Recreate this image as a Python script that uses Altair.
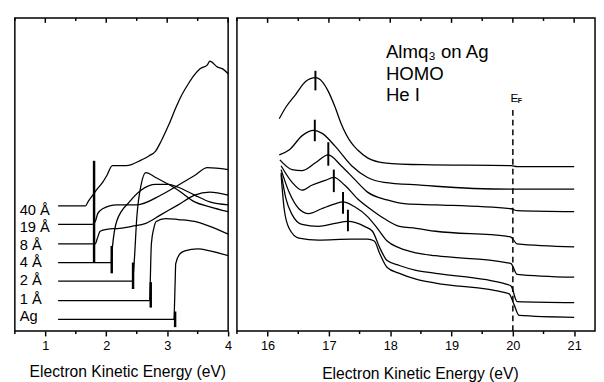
import altair as alt
import pandas as pd

FONT = "Liberation Sans"

# ---------------- Left panel: secondary-electron cutoff (eV, arb. units) ----------------
L_NAMES = ["40 Å", "19 Å", "8 Å", "4 Å", "2 Å", "1 Å", "Ag"]

L40_E = [1.21, 1.66, 1.70, 1.78, 1.85, 1.94, 2.01, 2.10, 2.33, 2.58, 2.70, 2.81, 2.90, 3.02, 3.14, 3.22, 3.34, 3.45, 3.54, 3.66, 3.70, 3.82, 3.91, 4.0]
L40_I = [128, 128, 132, 139, 145, 152, 159, 169, 169, 175, 179, 184, 194, 210, 228, 239, 252, 262, 268, 272, 276, 270, 268, 263]
L19_E = [1.21, 1.77, 1.82, 1.86, 1.94, 2.17, 2.50, 2.90, 3.18, 3.45, 3.66, 4.0]
L19_I = [109, 109, 112, 120, 125, 129, 129, 139, 149, 159, 167, 165]
L8_E = [1.21, 1.82, 1.85, 1.90, 2.01, 2.22, 2.42, 2.65, 2.90, 3.18, 3.45, 3.70, 4.0]
L8_I = [89, 89, 94, 102, 104, 105, 107, 110, 119, 129, 139, 142, 139]
L4_E = [1.21, 2.08, 2.10, 2.17, 2.38, 2.57, 2.81, 3.02, 3.18, 3.45, 3.70, 4.0]
L4_I = [70, 70, 85, 112, 132, 144, 150, 150, 147, 139, 132, 129]
L2_E = [1.21, 2.43, 2.46, 2.50, 2.57, 2.65, 2.81, 3.02, 3.18, 3.45, 3.70, 4.0]
L2_I = [51, 51, 72, 115, 149, 162, 157, 150, 144, 132, 127, 122]
L1_E = [1.21, 2.71, 2.74, 2.78, 2.82, 2.97, 3.18, 3.45, 3.70, 4.0]
L1_I = [31, 31, 89, 105, 112, 115, 114, 112, 107, 99]
LAG_E = [1.21, 3.11, 3.13, 3.14, 3.21, 3.29, 3.50, 3.70, 4.0]
LAG_I = [12, 12, 49, 69, 79, 82, 84, 82, 77]

# cutoff markers (energy, lower, upper)
CUT_E = [3.13, 2.73, 2.44, 2.09, 1.80]
CUT_LO = [4, 24, 43, 59, 70]
CUT_HI = [20, 50, 70, 87, 174]

# thickness labels
LAB_E = [0.58] * 7
LAB_I = [124, 106, 88, 70, 52, 33, 15]

# ---------------- Right panel: HOMO region ----------------
R_NAMES = ["40 Å", "19 Å", "8 Å", "4 Å", "2 Å", "1 Å", "Ag"]
R1_E = [16.19, 16.30, 16.46, 16.62, 16.78, 16.89, 16.99, 17.10, 17.20, 17.37, 17.47, 17.63, 17.90, 18.54, 19.97, 20.07, 21.0]
R1_I = [217, 229, 242, 255, 259, 255, 245, 229, 212, 192, 185, 177, 172, 170, 169, 168, 168]
R2_E = [16.19, 16.35, 16.57, 16.75, 16.89, 17.10, 17.37, 17.63, 17.90, 18.54, 18.74, 19.97, 21.0]
R2_I = [180, 185, 200, 205, 202, 189, 169, 157, 152, 149, 148, 145, 145]
R3_E = [16.20, 16.40, 16.56, 16.78, 16.99, 17.20, 17.42, 17.63, 17.95, 18.26, 18.74, 19.97, 20.07, 21.0]
R3_I = [175, 165, 164, 172, 180, 169, 155, 142, 134, 130, 129, 125, 123, 122]
R4_E = [16.22, 16.40, 16.56, 16.72, 16.94, 17.08, 17.26, 17.47, 17.67, 17.90, 18.15, 18.42, 18.74, 19.89, 19.97, 20.07, 21.0]
R4_I = [169, 152, 144, 149, 154, 157, 149, 135, 125, 115, 107, 105, 102, 97, 96, 89, 86]
R5_E = [16.22, 16.35, 16.51, 16.67, 16.88, 17.10, 17.23, 17.42, 17.63, 17.79, 17.95, 18.15, 18.42, 18.74, 19.89, 19.97, 20.07, 21.0]
R5_I = [165, 142, 125, 120, 125, 130, 132, 127, 117, 105, 92, 85, 80, 77, 70, 69, 58, 55]
R6_E = [16.22, 16.30, 16.40, 16.56, 16.83, 17.10, 17.31, 17.58, 17.71, 17.83, 17.95, 18.15, 18.42, 18.74, 19.89, 19.97, 20.07, 21.0]
R6_I = [162, 135, 119, 109, 107, 110, 112, 107, 102, 85, 72, 67, 62, 59, 48, 46, 30, 29]
R7_E = [16.22, 16.27, 16.35, 16.51, 16.83, 17.36, 17.63, 17.74, 17.83, 17.95, 18.15, 18.42, 18.74, 19.89, 19.94, 20.02, 20.10, 21.0]
R7_I = [160, 125, 105, 95, 93, 94, 94, 92, 79, 65, 59, 53, 49, 39, 38, 27, 16, 14]

PEAK_E = [16.78, 16.77, 16.99, 17.08, 17.23, 17.31]
PEAK_LO = [246, 194, 169, 142, 120, 102]
PEAK_HI = [266, 216, 193, 165, 142, 124]

EF_E = [20.0]
EF_LO = [0]
EF_HI = [227]

ANN_TEXT = ["Almq₃ on Ag", "HOMO", "He I"]
ANN_E = [17.93, 17.93, 17.93]
ANN_I = [279, 257, 235]

EF_LABEL = ["E"]
EF_LABEL_E = [19.96]
EF_LABEL_I = [234]
EF_SUB = ["F"]
EF_SUB_E = [20.08]
EF_SUB_I = [233]

# axis ticks: labelled majors, unlabelled minors
L_MAJOR = [1.0, 2.0, 3.0, 4.0]
L_MINOR = [0.5, 1.5, 2.5, 3.5]
R_MAJOR = [16.0, 17.0, 18.0, 19.0, 20.0, 21.0]
R_MINOR = [15.5, 16.5, 17.5, 18.5, 19.5, 20.5]
TITLE = "Electron Kinetic Energy (eV)"

Y_MAX = 320          # intensity range shown (arb. units)
TOP_MAJOR_LEN = 5    # tick lengths, in intensity units
TOP_MINOR_LEN = 3
BOT_MINOR_LEN = 3


def curves(names, Es, Is):
    rows = []
    for n, es, vs in zip(names, Es, Is):
        for i, (e, v) in enumerate(zip(es, vs)):
            rows.append({"s": n, "e": e, "v": v, "o": i})
    return pd.DataFrame(rows)


left_df = curves(L_NAMES, [L40_E, L19_E, L8_E, L4_E, L2_E, L1_E, LAG_E],
                 [L40_I, L19_I, L8_I, L4_I, L2_I, L1_I, LAG_I])
right_df = curves(R_NAMES, [R1_E, R2_E, R3_E, R4_E, R5_E, R6_E, R7_E],
                  [R1_I, R2_I, R3_I, R4_I, R5_I, R6_I, R7_I])
cut_df = pd.DataFrame({"e": CUT_E, "lo": CUT_LO, "hi": CUT_HI})
lab_df = pd.DataFrame({"e": LAB_E, "v": LAB_I, "t": L_NAMES})
peak_df = pd.DataFrame({"e": PEAK_E, "lo": PEAK_LO, "hi": PEAK_HI})
ef_df = pd.DataFrame({"e": EF_E, "lo": EF_LO, "hi": EF_HI})
ann_df = pd.DataFrame({"e": ANN_E, "v": ANN_I, "t": ANN_TEXT})
efl_df = pd.DataFrame({"e": EF_LABEL_E, "v": EF_LABEL_I, "t": EF_LABEL})
efs_df = pd.DataFrame({"e": EF_SUB_E, "v": EF_SUB_I, "t": EF_SUB})

YS = alt.Scale(domain=[0, Y_MAX], nice=False, zero=False)
H = 320


def bottom_axis(values, title_x, title_y):
    return alt.Axis(values=values, orient="bottom", title=TITLE, grid=False, domain=False,
                    format="d", labelFlush=False, labelOverlap=False,
                    ticks=True, tickSize=5, tickColor="black", tickWidth=1.5,
                    labelFont=FONT, labelFontSize=13, labelColor="black", labelPadding=4,
                    titleFont=FONT, titleFontSize=16, titleFontWeight="normal", titleColor="black",
                    titleX=title_x, titleY=title_y, titleBaseline="top")


def tick_layer(xs, major, minor):
    rows = []
    for e in major:
        rows.append({"e": e, "lo": Y_MAX - TOP_MAJOR_LEN, "hi": Y_MAX})
    for e in minor:
        rows.append({"e": e, "lo": Y_MAX - TOP_MINOR_LEN, "hi": Y_MAX})
        rows.append({"e": e, "lo": -BOT_MINOR_LEN, "hi": 0})
    d = pd.DataFrame(rows)
    return alt.Chart(d).mark_rule(color="black", strokeWidth=1.5).encode(
        x=alt.X("e:Q", scale=xs, axis=None),
        y=alt.Y("lo:Q", scale=YS, axis=None), y2="hi:Q")


lS = alt.Scale(domain=[0.5, 4.0], nice=False, zero=False)
rS = alt.Scale(domain=[15.5, 21.34], nice=False, zero=False)

l_lines = alt.Chart(left_df).mark_line(color="black", strokeWidth=1.3, interpolate="monotone").encode(
    x=alt.X("e:Q", scale=lS, axis=bottom_axis(L_MAJOR, 115, 33)),
    y=alt.Y("v:Q", scale=YS, axis=None),
    detail="s:N", order="o:Q")
l_cut = alt.Chart(cut_df).mark_rule(color="black", strokeWidth=2.5).encode(
    x=alt.X("e:Q", scale=lS, axis=None),
    y=alt.Y("lo:Q", scale=YS, axis=None), y2="hi:Q")
l_lab = alt.Chart(lab_df).mark_text(align="left", baseline="middle", font=FONT, fontSize=15,
                                    color="black").encode(
    x=alt.X("e:Q", scale=lS, axis=None), y=alt.Y("v:Q", scale=YS, axis=None), text="t:N")
left = alt.layer(l_lines, l_cut, l_lab, tick_layer(lS, L_MAJOR, L_MINOR)).resolve_axis(
    x="independent").properties(width=218, height=H)

r_lines = alt.Chart(right_df).mark_line(color="black", strokeWidth=1.3, interpolate="monotone").encode(
    x=alt.X("e:Q", scale=rS, axis=bottom_axis(R_MAJOR, 187, 36)),
    y=alt.Y("v:Q", scale=YS, axis=None),
    detail="s:N", order="o:Q")
r_peak = alt.Chart(peak_df).mark_rule(color="black", strokeWidth=2).encode(
    x=alt.X("e:Q", scale=rS, axis=None),
    y=alt.Y("lo:Q", scale=YS, axis=None), y2="hi:Q")
r_ef = alt.Chart(ef_df).mark_rule(color="black", strokeWidth=1.5, strokeDash=[6, 4]).encode(
    x=alt.X("e:Q", scale=rS, axis=None), y=alt.Y("lo:Q", scale=YS, axis=None), y2="hi:Q")
r_ann = alt.Chart(ann_df).mark_text(align="left", baseline="alphabetic", font=FONT, fontSize=19,
                                    color="black").encode(
    x=alt.X("e:Q", scale=rS, axis=None), y=alt.Y("v:Q", scale=YS, axis=None), text="t:N")
r_efl = alt.Chart(efl_df).mark_text(align="left", baseline="alphabetic", font=FONT, fontSize=12,
                                    color="black").encode(
    x=alt.X("e:Q", scale=rS, axis=None), y=alt.Y("v:Q", scale=YS, axis=None), text="t:N")
r_efs = alt.Chart(efs_df).mark_text(align="left", baseline="alphabetic", font=FONT, fontSize=7,
                                    fontWeight="bold", color="black").encode(
    x=alt.X("e:Q", scale=rS, axis=None), y=alt.Y("v:Q", scale=YS, axis=None), text="t:N")
right = alt.layer(r_lines, r_peak, r_ef, r_ann, r_efl, r_efs,
                  tick_layer(rS, R_MAJOR, R_MINOR)).resolve_axis(
    x="independent").properties(width=366, height=H)

chart = alt.hconcat(left, right, spacing=2).properties(
    padding={"left": 5, "top": 4, "right": 0, "bottom": 0}
).configure(font=FONT).configure_view(stroke="black", strokeWidth=1.5)

chart.save("out.html", embed_options={"renderer": "svg", "actions": False})
